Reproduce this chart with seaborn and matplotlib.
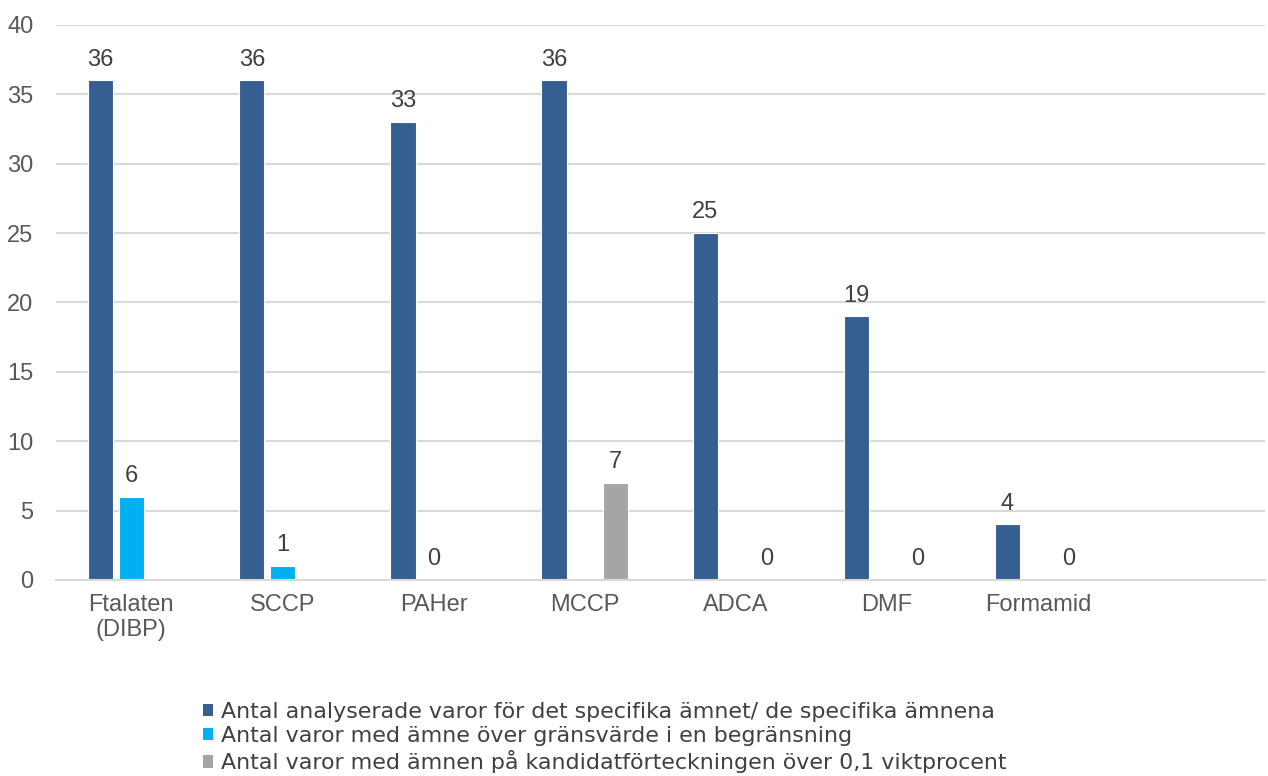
import numpy as np
import pandas as pd
import matplotlib
matplotlib.use("Agg")
import matplotlib.pyplot as plt
import seaborn as sns
from matplotlib.patches import Patch

categories = ["Ftalaten\n(DIBP)", "SCCP", "PAHer", "MCCP", "ADCA", "DMF", "Formamid"]
series_names = [
    "Antal analyserade varor för det specifika ämnet/ de specifika ämnena",
    "Antal varor med ämne över gränsvärde i en begränsning",
    "Antal varor med ämnen på kandidatförteckningen över 0,1 viktprocent",
]
analyzed = [36, 36, 33, 36, 25, 19, 4]
over_limit = [6, 1, 0, np.nan, np.nan, np.nan, np.nan]
candidate = [np.nan, np.nan, np.nan, 7, 0, 0, 0]
y_ticks = [0, 5, 10, 15, 20, 25, 30, 35, 40]
colors = ["#365F91", "#00B0F0", "#A5A5A5"]

rows = []
for name, vals in zip(series_names, [analyzed, over_limit, candidate]):
    for c, v in zip(categories, vals):
        rows.append({"cat": c, "series": name, "value": v})
df = pd.DataFrame(rows).dropna()

sns.set_theme(style="white")
plt.rcParams["font.family"] = ["Liberation Sans", "DejaVu Sans"]

fig = plt.figure(figsize=(12.68, 7.76), dpi=100)
ax = fig.add_axes([0.044, 0.2526, 0.9536, 0.7152])

sns.barplot(data=df, x="cat", y="value", hue="series", order=categories,
            hue_order=series_names, palette=colors, width=0.61, gap=0.18,
            errorbar=None, edgecolor="white", linewidth=0.8, ax=ax,
            legend=False, saturation=1)

for cont in ax.containers:
    ax.bar_label(cont, fmt="%g", padding=7, fontsize=17, color="#404040")

ax.set_xlim(-0.5, len(categories) + 0.5)
ax.set_ylim(0, 40)
ax.set_yticks(y_ticks)
ax.yaxis.grid(True, color="#D9D9D9", linewidth=1.5)
ax.set_axisbelow(True)
for s in ["left", "right", "top"]:
    ax.spines[s].set_visible(False)
ax.spines["bottom"].set_color("#D9D9D9")
ax.spines["bottom"].set_linewidth(1.5)
ax.tick_params(axis="both", length=0, labelsize=17, labelcolor="#595959")
ax.tick_params(axis="x", pad=10)
ax.tick_params(axis="y", pad=16)
ax.set_xlabel("")
ax.set_ylabel("")

handles = [Patch(facecolor=c, edgecolor="none") for c in colors]
fig.legend(handles, series_names, loc="upper left", bbox_to_anchor=(0.160, 0.096),
           frameon=False, prop={"family": "DejaVu Sans", "size": 15.9},
           labelcolor="#404040",
           handlelength=0.48, handleheight=0.48, handletextpad=0.35,
           labelspacing=0.2, borderpad=0, borderaxespad=0)

fig.savefig("out.png", dpi=100)
